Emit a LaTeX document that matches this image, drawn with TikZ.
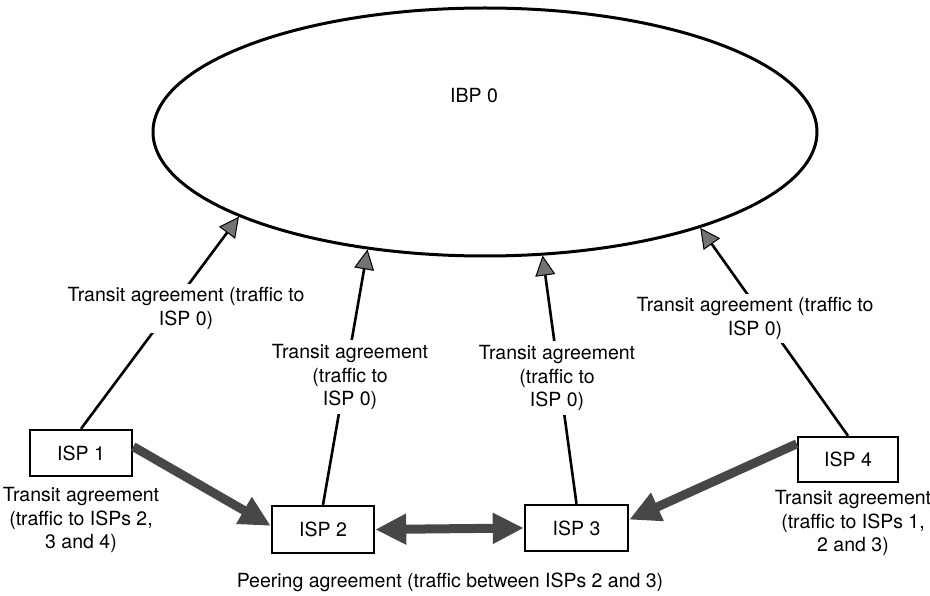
\documentclass[tikz,border=0pt]{standalone}
\usepackage{fontspec}
\setmainfont{TeX Gyre Heros}
\usetikzlibrary{arrows.meta,shapes.geometric}
\begin{document}
\begin{tikzpicture}[x=1pt,y=-1pt,
  every node/.style={font=\fontsize{19.5}{23.5}\selectfont},
  ispbox/.style={draw,line width=2.4pt,minimum height=46pt,inner sep=0pt},
  backbone/.style={ellipse,draw,line width=3pt,minimum width=664pt,minimum height=248pt,inner sep=0pt},
  uplink/.style={line width=2.6pt,-{Triangle[length=20pt,width=20pt,fill=black!55,line width=1pt]}},
  feed/.style={line width=9pt,black!72,-{Triangle[length=31pt,width=29pt]}},
  peer/.style={line width=9pt,black!72,{Triangle[length=31pt,width=29pt]}-{Triangle[length=31pt,width=29pt]}},
  note/.style={align=center,fill=white,inner sep=4pt}]
\useasboundingbox (0,0) rectangle (930,596);

% backbone provider
\node[backbone] (ibp) at (485,132) {};
\node (ibptext) at (474,96) {IBP 0};

% access providers
\node[ispbox,minimum width=102pt] (isp1) at (81,453) {ISP 1};
\node[ispbox,minimum width=102pt,minimum height=47pt] (isp2) at (323,529.5) {ISP 2};
\node[ispbox,minimum width=103pt] (isp3) at (576.5,528) {ISP 3};
\node[ispbox,minimum width=100pt,minimum height=45pt] (isp4) at (848,459.5) {ISP 4};

% transit to the backbone
\draw[uplink] (isp1.north) -- (ibp.199.8);
\draw[uplink] (isp2.north) -- (ibp.225.7);
\draw[uplink] (isp3.north) -- (ibp.295.8);
\draw[uplink] (isp4.north) -- (ibp.336);

% transit and peering between access providers
\draw[feed] (isp1.7) -- (isp2.176);
\draw[feed] (isp4.163.8) -- (isp3.9);
\draw[peer] (isp2.east) -- (isp3.west);

% agreement labels
\node[note] (n1) at (186,308.5) {Transit agreement (traffic to\\ISP 0)};
\node[note] (n2) at (350,377) {Transit agreement\\(traffic to\\ISP 0)};
\node[note] (n3) at (557,378) {Transit agreement\\(traffic to\\ISP 0)};
\node[note] (n4) at (755,318.5) {Transit agreement (traffic to\\ISP 0)};
\node[note] (n5) at (81,520) {Transit agreement\\(traffic to ISPs 2,\\3 and 4)};
\node[note] (n6) at (853,523) {Transit agreement\\(traffic to ISPs 1,\\2 and 3)};
\node[note] (n7) at (450,582) {Peering agreement (traffic between ISPs 2 and 3)};
\end{tikzpicture}
\end{document}
